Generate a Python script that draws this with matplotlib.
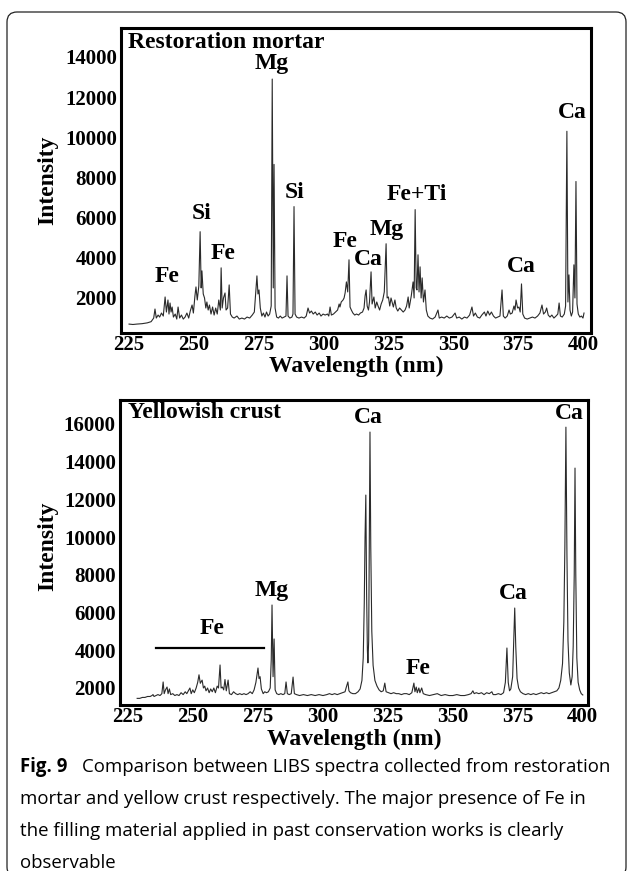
import matplotlib
matplotlib.use("Agg")
import matplotlib.pyplot as plt
from matplotlib.patches import FancyBboxPatch
from matplotlib.transforms import IdentityTransform

plt.rcParams['font.family'] = ['Liberation Serif', 'DejaVu Serif']
plt.rcParams['font.weight'] = 'bold'

# ---- restoration mortar spectrum (wavelength nm, intensity)
mortar_wl = [225.0, 226.5, 228.0, 230.0, 232.0, 233.5, 234.5, 235.0, 235.5, 236.2, 236.8, 237.5, 238.2, 238.9,
             239.4, 240.0, 240.4, 240.8, 241.2, 241.6, 242.1, 242.8, 243.4, 243.9, 244.5, 245.2, 245.9, 246.6,
             247.3, 248.0, 248.6, 249.3, 249.8, 250.4, 250.8, 251.3, 251.9, 252.4, 252.8, 253.1, 253.6, 254.1,
             254.6, 255.0, 255.5, 256.0, 256.6, 257.2, 257.8, 258.4, 259.0, 259.6, 260.2, 260.5, 260.9, 261.4,
             262.0, 262.4, 263.0, 263.6, 264.1, 264.8, 265.5, 266.6, 267.5, 268.5, 269.5, 270.5, 271.5, 272.5,
             273.3, 273.8, 274.3, 274.7, 275.1, 275.6, 276.2, 276.8, 277.4, 278.0, 278.6, 279.2, 279.8, 280.2,
             280.6, 280.9, 281.3, 281.9, 282.6, 283.3, 284.0, 284.8, 285.5, 285.9, 286.3, 287.0, 287.8, 288.2,
             288.6, 289.0, 289.6, 290.5, 291.5, 292.5, 293.3, 294.0, 294.6, 295.3, 296.0, 296.8, 297.5, 298.3,
             299.0, 299.8, 300.6, 301.5, 302.0, 302.5, 303.0, 303.8, 304.6, 305.4, 306.0, 306.3, 306.8, 307.5,
             307.9, 308.3, 308.8, 309.3, 309.8, 310.2, 310.7, 311.3, 312.0, 312.7, 313.5, 314.2, 315.0, 315.6,
             316.0, 316.4, 316.8, 317.3, 317.7, 318.3, 318.7, 319.4, 319.9, 320.5, 321.0, 321.6, 322.2, 322.8,
             323.4, 324.1, 324.5, 325.0, 325.5, 326.0, 326.4, 326.9, 327.5, 328.0, 328.6, 329.3, 330.0, 330.7,
             331.4, 332.0, 332.6, 333.0, 333.8, 334.5, 334.9, 335.3, 335.7, 336.0, 336.4, 336.8, 337.2, 337.6,
             338.0, 338.5, 339.1, 339.6, 340.2, 341.0, 342.0, 343.0, 344.1, 344.6, 345.5, 346.5, 347.5, 348.5,
             349.5, 350.7, 351.3, 352.3, 353.3, 354.3, 355.3, 356.3, 357.2, 357.8, 358.5, 359.3, 360.2, 361.0,
             362.0, 362.6, 363.3, 364.0, 364.7, 365.5, 366.3, 367.2, 368.0, 368.8, 369.3, 370.0, 370.8, 371.5,
             372.0, 372.7, 373.4, 373.8, 374.2, 374.8, 375.3, 375.8, 376.3, 376.8, 377.5, 378.5, 379.5, 380.5,
             381.5, 382.5, 383.4, 384.2, 384.8, 385.5, 386.0, 386.6, 387.3, 388.0, 388.8, 389.6, 390.3, 390.8,
             391.3, 392.0, 392.8, 393.3, 393.8, 394.2, 394.6, 395.0, 395.5, 396.0, 396.5, 396.9, 397.3, 397.7,
             398.2, 398.8, 399.4, 400.0, 400.4]
mortar_int = [700, 680, 700, 720, 760, 820, 1000, 1450, 1000, 1150, 1050, 1250, 1100, 2050,
              1300, 1900, 1200, 1750, 1300, 1550, 1050, 1200, 950, 1550, 1000, 1150, 950, 1050,
              1250, 1000, 1350, 1650, 1250, 2100, 2550, 1900, 2600, 5300, 2500, 3350, 2200, 2000,
              1500, 1800, 1400, 1650, 1200, 1550, 1150, 1500, 1200, 1900, 1400, 3500, 1500, 2000,
              2250, 1400, 1500, 2650, 1200, 1050, 1000, 1100, 950, 1000, 950, 1050, 1000, 1150,
              1300, 2200, 3100, 2200, 2400, 1500, 1100, 1250, 1050, 1300, 1100, 1200, 1600, 12900,
              2500, 8650, 1500, 1050, 1000, 1100, 1000, 1050, 1100, 3100, 1100, 1000, 1050, 1200,
              6550, 1200, 1050, 1000, 1050, 1000, 1100, 1500, 1250, 1350, 1200, 1300, 1150, 1250,
              1100, 1200, 1150, 1200, 1100, 1550, 1150, 1200, 1300, 1400, 1700, 1550, 1800, 1900,
              2000, 2250, 2800, 2300, 3900, 1550, 1400, 1250, 1150, 1200, 1150, 1250, 1300, 1500,
              2100, 2400, 1600, 1400, 1800, 3300, 1700, 2050, 1500, 1800, 1600, 1400, 1700, 1900,
              2300, 4700, 2000, 2050, 1600, 2000, 1800, 1550, 1900, 1500, 1350, 1500, 1400, 1300,
              1400, 1600, 2050, 1500, 2100, 2800, 2000, 6400, 2500, 2400, 4150, 2300, 3550, 2000,
              3000, 1800, 2400, 1400, 1100, 1000, 950, 1050, 1400, 1000, 1050, 1000, 1100, 1000,
              1050, 1250, 1000, 1050, 950, 1050, 1000, 1150, 1550, 1100, 1250, 1050, 1000, 1150,
              1300, 1100, 1350, 1150, 1300, 1100, 1000, 1050, 1100, 2400, 1100, 1000, 1100, 1400,
              1200, 1250, 1600, 1400, 1900, 1500, 1550, 1300, 2700, 1200, 1000, 950, 1000, 1050,
              1000, 1100, 1250, 1650, 1200, 1300, 1500, 1150, 1050, 1150, 1000, 1100, 1200, 1750,
              1100, 1050, 1200, 1600, 10300, 1800, 3150, 1400, 1100, 1300, 3650, 2000, 7800, 1700,
              1200, 1050, 1100, 1000, 1250]

# ---- yellowish crust spectrum
crust_wl = [228.5, 229.5, 230.5, 231.5, 232.5, 233.5, 234.2, 234.6, 235.0, 235.8, 236.5, 237.3, 238.0, 238.5,
            238.9, 239.4, 240.0, 240.4, 240.9, 241.4, 242.2, 243.0, 243.8, 244.6, 245.4, 246.2, 247.0, 247.6,
            248.2, 248.8, 249.3, 249.9, 250.5, 251.2, 251.8, 252.3, 252.8, 253.5, 254.0, 254.5, 255.0, 255.6,
            256.2, 256.8, 257.4, 258.0, 258.6, 259.3, 259.8, 260.4, 260.8, 261.3, 261.8, 262.3, 262.8, 263.5,
            264.0, 264.8, 265.6, 266.4, 267.2, 268.0, 268.8, 269.6, 270.4, 271.2, 272.0, 272.8, 273.5, 274.2,
            275.0, 275.4, 275.8, 276.3, 277.0, 277.6, 278.3, 279.0, 279.7, 280.1, 280.4, 280.8, 281.2, 281.6,
            282.2, 283.0, 283.8, 284.6, 285.3, 285.8, 286.3, 287.0, 287.8, 288.5, 289.0, 289.8, 291.0, 292.5,
            294.0, 295.5, 297.0, 298.5, 300.0, 301.5, 302.5, 303.5, 304.5, 305.5, 306.5, 307.5, 308.5, 309.0,
            309.6, 310.0, 310.6, 311.5, 312.5, 313.5, 314.3, 315.0, 315.5, 315.9, 316.2, 316.5, 316.8, 317.1,
            317.3, 317.6, 317.8, 318.1, 318.4, 318.8, 319.3, 320.0, 320.8, 321.6, 322.4, 323.2, 323.8, 324.3,
            325.2, 326.2, 327.2, 328.2, 329.2, 330.2, 331.2, 332.2, 333.2, 334.2, 335.0, 335.4, 335.9, 336.3,
            336.9, 337.3, 338.0, 338.6, 339.5, 341.0, 342.5, 344.0, 345.5, 347.0, 348.5, 350.0, 351.5, 353.0,
            354.5, 356.0, 357.0, 357.7, 358.2, 359.0, 360.0, 361.0, 362.0, 363.0, 364.0, 365.0, 365.5, 366.5,
            367.5, 368.5, 369.5, 370.2, 370.8, 371.3, 371.8, 372.3, 373.0, 373.5, 373.8, 374.2, 374.7, 375.3,
            376.0, 377.0, 378.0, 379.0, 380.0, 381.0, 382.0, 383.0, 384.0, 385.0, 386.0, 387.0, 388.0, 389.0,
            390.0, 390.8, 391.5, 392.2, 392.7, 393.1, 393.5, 393.9, 394.3, 394.8, 395.4, 395.9, 396.3, 396.7,
            397.0, 397.3, 397.7, 398.2, 398.8, 399.4, 400.0]
crust_int = [1450, 1450, 1500, 1500, 1550, 1550, 1600, 1650, 1550, 1600, 1650, 1600, 1700, 2320,
             1700, 1900, 2050, 1700, 1950, 1650, 1700, 1600, 1650, 1600, 1750, 1650, 1800, 1700,
             1850, 2000, 1700, 1900, 1750, 2000, 2300, 2700, 2250, 2420, 2000, 2100, 1850, 2000,
             1750, 1950, 1800, 2000, 1750, 2100, 2000, 3220, 2000, 2050, 1900, 2450, 1850, 2420,
             1700, 1650, 1800, 1700, 1650, 1700, 1650, 1700, 1650, 1700, 1800, 1700, 1900, 2300,
             3060, 2500, 2600, 1950, 1700, 1800, 1750, 1800, 2000, 3500, 6400, 2600, 4600, 1900,
             1700, 1650, 1700, 1650, 1700, 2320, 1700, 1650, 1700, 2580, 1700, 1650, 1600, 1650,
             1600, 1650, 1600, 1650, 1600, 1650, 1700, 1650, 1700, 1650, 1700, 1750, 1800, 2050,
             2320, 1850, 1750, 1700, 1700, 1800, 1950, 2400, 3600, 6500, 10000, 12230, 7000, 4000,
             3330, 4500, 9000, 15570, 9500, 5000, 3200, 2400, 2100, 1900, 1800, 1850, 2260, 1800,
             1750, 1700, 1750, 1700, 1700, 1650, 1700, 1700, 1650, 1750, 2260, 1800, 2050, 1750,
             2000, 1750, 2000, 1700, 1650, 1600, 1650, 1700, 1600, 1650, 1600, 1600, 1650, 1600,
             1600, 1650, 1700, 1850, 1700, 1750, 1700, 1750, 1650, 1750, 1700, 1800, 1650, 1650,
             1700, 1650, 1750, 2300, 4120, 2300, 1850, 1950, 2600, 4800, 6240, 4200, 2500, 2000,
             1800, 1700, 1650, 1700, 1650, 1700, 1650, 1700, 1750, 1700, 1750, 1700, 1750, 1800,
             1850, 2000, 2400, 3300, 5500, 9500, 15830, 9000, 4500, 2800, 2160, 2600, 4200, 8000,
             13660, 8000, 3600, 2300, 1900, 1700, 1630]

# ---- peak annotations
mortar_labels = ['Fe', 'Si', 'Fe', 'Mg', 'Si', 'Fe', 'Ca', 'Mg', 'Fe+Ti', 'Ca', 'Ca']
mortar_lab_x = [239.6, 252.8, 261.2, 280.1, 289.0, 308.3, 317.1, 324.5, 336.0, 376.1, 395.8]
mortar_lab_y = [3050, 6200, 4200, 13650, 7250, 4800, 3900, 5400, 7150, 3550, 11250]

crust_labels = ['Fe', 'Mg', 'Ca', 'Fe', 'Ca', 'Ca']
crust_lab_x = [257.3, 280.4, 317.3, 336.5, 373.1, 395.0]
crust_lab_y = [5130, 7190, 16360, 3060, 7035, 16575]
fe_band_x = [235.8, 277.3]
fe_band_y = [4120, 4120]

x_ticks = [225, 250, 275, 300, 325, 350, 375, 400]
mortar_yticks = [2000, 4000, 6000, 8000, 10000, 12000, 14000]
crust_yticks = [2000, 4000, 6000, 8000, 10000, 12000, 14000, 16000]

caption_first = "Comparison between LIBS spectra collected from restoration"
caption_lines = ["mortar and yellow crust respectively. The major presence of Fe in",
                 "the filling material applied in past conservation works is clearly",
                 "observable"]

fig = plt.figure(figsize=(6.27, 8.71), dpi=100)
ax1 = fig.add_axes([0.193, 0.6177, 0.7496, 0.3502])
ax2 = fig.add_axes([0.1914, 0.1906, 0.7464, 0.3502])


def style(ax, yticks, ylim, xlim):
    ax.set_xlim(*xlim)
    ax.set_ylim(*ylim)
    ax.set_xticks(x_ticks)
    ax.set_yticks(yticks)
    ax.tick_params(length=0, labelsize=15, pad=3)
    ax.tick_params(axis='x', pad=1.5)
    for s in ax.spines.values():
        s.set_linewidth(2.2)
    ax.set_ylabel('Intensity', fontsize=17, fontweight='bold')


ax1.plot(mortar_wl, mortar_int, color='#2a2a2a', lw=0.8)
style(ax1, mortar_yticks, (257, 15444), (221.9, 403.1))
ax1.yaxis.set_label_coords(-0.134, 0.5)
ax1.text(0.5, -0.11, 'Wavelength (nm)', transform=ax1.transAxes, ha='center', va='center', fontsize=17)
ax1.text(0.015, 0.951, 'Restoration mortar', transform=ax1.transAxes, ha='left', va='center', fontsize=17)
for t, x, y in zip(mortar_labels, mortar_lab_x, mortar_lab_y):
    ax1.text(x, y, t, ha='center', va='center', fontsize=17)

ax2.plot(crust_wl, crust_int, color='#2a2a2a', lw=0.8)
style(ax2, crust_yticks, (1099, 17272), (221.9, 402.0))
ax2.yaxis.set_label_coords(-0.1325, 0.52)
ax2.text(0.5, -0.114, 'Wavelength (nm)', transform=ax2.transAxes, ha='center', va='center', fontsize=17)
ax2.text(0.017, 0.96, 'Yellowish crust', transform=ax2.transAxes, ha='left', va='center', fontsize=17)
for t, x, y in zip(crust_labels, crust_lab_x, crust_lab_y):
    ax2.text(x, y, t, ha='center', va='center', fontsize=17)
ax2.plot(fe_band_x, fe_band_y, color='black', lw=1.6)

# caption
cap_font = ['Open Sans', 'DejaVu Sans']
fig.text(20 / 627, 1 - 767 / 871, 'Fig. 9', family=cap_font, weight='bold', fontsize=13.4, va='center')
fig.text(610 / 627, 1 - 767 / 871, caption_first,
         family=cap_font, weight='normal', fontsize=13.4, va='center', ha='right')
for i, line in enumerate(caption_lines):
    fig.text(20 / 627, 1 - (799 + 32 * i) / 871, line, family=cap_font, weight='normal', fontsize=13.4,
             va='center')

# rounded frame round the whole figure
frame = FancyBboxPatch((7, -6), 619, 865, boxstyle='round,pad=0,rounding_size=10',
                       transform=IdentityTransform(), fill=False, edgecolor='#222222', lw=0.9)
fig.add_artist(frame)

fig.savefig('out.png', dpi=100)
